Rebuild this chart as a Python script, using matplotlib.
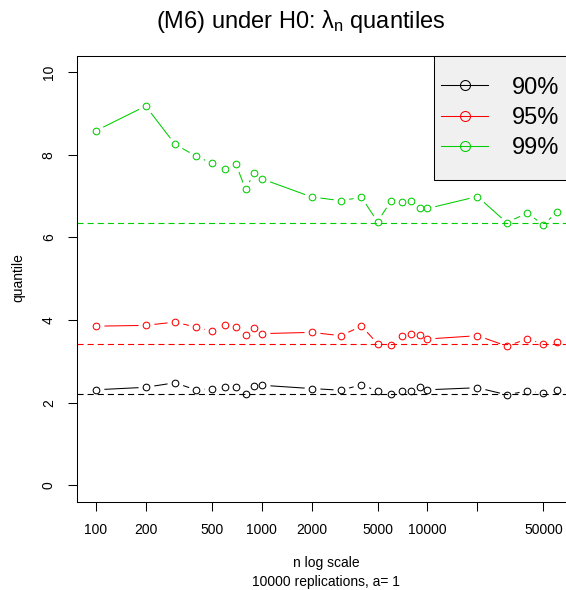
import matplotlib
matplotlib.use("Agg")
import matplotlib.pyplot as plt
from matplotlib.lines import Line2D
from matplotlib.patches import Rectangle
from matplotlib.ticker import FixedLocator, FixedFormatter, NullLocator
import numpy as np

# data
n = [100, 200, 300, 400, 500, 600, 700, 800, 900, 1000,
     2000, 3000, 4000, 5000, 6000, 7000, 8000, 9000, 10000,
     20000, 30000, 40000, 50000, 60000]
q90 = [2.31, 2.37, 2.48, 2.31, 2.33, 2.37, 2.38, 2.21, 2.41, 2.42,
       2.34, 2.30, 2.43, 2.28, 2.21, 2.27, 2.28, 2.37, 2.31,
       2.36, 2.19, 2.28, 2.23, 2.30]
q95 = [3.85, 3.87, 3.95, 3.83, 3.73, 3.88, 3.83, 3.63, 3.80, 3.67,
       3.70, 3.62, 3.85, 3.43, 3.39, 3.62, 3.65, 3.63, 3.54,
       3.62, 3.37, 3.54, 3.42, 3.46]
q99 = [8.58, 9.18, 8.26, 7.97, 7.80, 7.66, 7.77, 7.17, 7.55, 7.42,
       6.98, 6.89, 6.97, 6.38, 6.87, 6.85, 6.88, 6.70, 6.70,
       6.99, 6.36, 6.59, 6.30, 6.61]
ref_lines = [2.22, 3.42, 6.34]
labels = ["90%", "95%", "99%"]
colors = ["black", "#ff0000", "#00cd00"]
xticks = [100, 200, 500, 1000, 2000, 5000, 10000, 20000, 50000]
xticklabels = ["100", "200", "500", "1000", "2000", "5000", "10000", "", "50000"]
yticks = [0, 2, 4, 6, 8, 10]

plt.rcParams["font.family"] = ["Liberation Sans", "DejaVu Sans"]
plt.rcParams["mathtext.fontset"] = "custom"
plt.rcParams["mathtext.rm"] = "Liberation Sans"
plt.rcParams["mathtext.it"] = "Liberation Sans"

W, H = 566, 590


def px_x(p):
    return p / W


def px_y(p):
    return 1 - p / H


def draw_series(ax, y, color):
    # R type="b": line with gaps around the points
    ax.plot(n, y, color=color, lw=0.75, zorder=2.0)
    ax.plot(n, y, ls="none", marker="o", ms=11.5, mfc="white", mec="none", zorder=2.1)
    ax.plot(n, y, ls="none", marker="o", ms=4.8, mfc="none", mec=color, mew=0.75, zorder=2.3)


def main():
    fig = plt.figure(figsize=(W / 100, H / 100), dpi=100)
    left, right, top, bottom = 77.3, 575.0, 55.7, 501.7
    ax = fig.add_axes([px_x(left), px_y(bottom), (right - left) / W, (bottom - top) / H])

    for y, c in zip([q90, q95, q99], colors):
        draw_series(ax, y, c)
    for r, c in zip(ref_lines, colors):
        ax.axhline(r, color=c, lw=0.8, dashes=(5.5, 3.6), zorder=2.2)

    ax.set_xscale("log")
    lo, hi = np.log10(min(n)), np.log10(max(n))
    d = 0.04 * (hi - lo)
    ax.set_xlim(10 ** (lo - d), 10 ** (hi + d))
    ax.set_ylim(-0.4, 10.4)

    ax.xaxis.set_major_locator(FixedLocator(xticks))
    ax.xaxis.set_major_formatter(FixedFormatter(xticklabels))
    ax.xaxis.set_minor_locator(NullLocator())
    ax.set_yticks(yticks)
    ax.set_yticklabels([str(v) for v in yticks])
    ax.tick_params(axis="both", length=6.5, width=0.75, labelsize=10, pad=9)
    for lab in ax.get_yticklabels():
        lab.set_rotation(90)
        lab.set_rotation_mode("default")
        lab.set_ha("right")
        lab.set_va("center")

    for s in ax.spines.values():
        s.set_linewidth(0.75)

    # legend box
    lx = (434 - left) / (right - left)
    ly = (bottom - 180) / (bottom - top)
    ax.add_patch(Rectangle((lx, ly), 1 - lx, 1 - ly, transform=ax.transAxes,
                           facecolor="#f0f0f0", edgecolor="black", lw=0.75,
                           zorder=4, clip_on=False))
    handles = [Line2D([], [], color=c, lw=0.75, marker="o", ms=7.2, mfc="none",
                      mec=c, mew=0.75) for c in colors]
    hx = (441 - left) / (right - left)
    hy = (bottom - 76.5) / (bottom - top)
    leg = ax.legend(handles, labels, loc="upper left", bbox_to_anchor=(hx, hy),
                    frameon=False, fontsize=17, borderpad=0, borderaxespad=0,
                    handlelength=2.0, handletextpad=1.0, labelspacing=0.36)
    leg.set_zorder(5)

    fig.text(px_x(301), px_y(28), r"(M6) under H0: $\lambda_n$ quantiles",
             fontsize=17, ha="center", va="baseline")
    fig.text(px_x(326), px_y(563), "n log scale", fontsize=10, ha="center", va="center")
    fig.text(px_x(326), px_y(582), "10000 replications, a= 1", fontsize=10,
             ha="center", va="center")
    fig.text(px_x(18), px_y(278), "quantile", fontsize=10, rotation=90,
             ha="center", va="center")

    fig.savefig("out.png", dpi=100)


if __name__ == "__main__":
    main()
